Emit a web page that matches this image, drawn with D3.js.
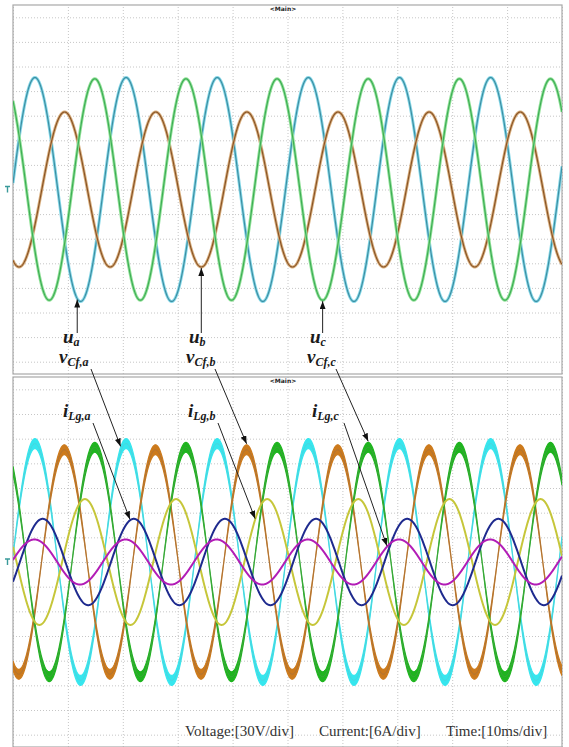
<!DOCTYPE html>
<html lang="en">
<head>
<meta charset="utf-8">
<title></title>
<script src="https://d3js.org/d3.v7.min.js"></script>
<style>
  body { margin: 0; background: #fff; }
  .grid line { stroke: #c6c6c6; stroke-width: 1; stroke-dasharray: 1 2; }
  .grid .domain { display: none; }
  .frame { fill: none; stroke: #a8a8a8; stroke-width: 1.2; }
  .lbl { font-family: "Liberation Serif", "Times New Roman", serif; font-weight: bold; font-style: italic; fill: #1a1a1a; }
  .foot { font-family: "Liberation Serif", "Times New Roman", serif; font-size: 15px; fill: #333; }
  .main { font-family: "DejaVu Sans", sans-serif; font-size: 6px; font-weight: bold; fill: #222; }
  .lead { stroke: #222; stroke-width: 1; }
</style>
</head>
<body>
<svg width="569" height="747"></svg>
<script>
// time base: 10 ms/div, 10 divisions
var timeSpanMs = [0, 100];
var periodMs = 16.6;

// top panel: u / v_Cf voltages [V], 30 V/div
var voltsPerDiv = 30;
var topPhases = ["a", "b", "c"];
var topPeakMs = [4.0, 9.4, 14.9];
var topAmpV = [91, 63, 90];

// bottom panel: thick voltage traces (with switching ripple)
var botVPeakMs = [4.0, 9.35, 14.9];
var botVAmpV = [100, 95, 97];
var botVRippleV = [8, 8, 8];

// bottom panel: grid currents [A], 6 A/div
var ampsPerDiv = 6;
var currPhases = ["a", "b", "c"];
var currPeakMs = [5.4, 13.1, 3.9];
var currAmpA = [7.0, 10.2, 3.65];

// where the annotation arrows touch the traces [ms]
var uArrowMs = [11.7, 34.3, 56.4];
var vArrowMs = [19.6, 42.55, 64.7];
var iArrowMs = [21.3, 44.1, 68.1];

var footTexts = ["Voltage:[30V/div]", "Current:[6A/div]", "Time:[10ms/div]"];

var svg = d3.select("svg");
var left = 13, right = 562;
var topBox = {y0: 5, y1: 374};
var botBox = {y0: 377, y1: 747};

var x = d3.scaleLinear().domain(timeSpanMs).range([left, right]);
var yTop = d3.scaleLinear().domain([-5 * voltsPerDiv, 5 * voltsPerDiv]).range([topBox.y1, topBox.y0]);
var yBotV = d3.scaleLinear().domain([-5 * voltsPerDiv, 5 * voltsPerDiv]).range([botBox.y1, botBox.y0]);
var yBotI = d3.scaleLinear().domain([-5 * ampsPerDiv, 5 * ampsPerDiv]).range([botBox.y1, botBox.y0]);

var samples = d3.range(timeSpanMs[0], timeSpanMs[1] + 0.001, 0.05);
function wave(peak, amp) {
  return function(t) { return amp * Math.cos(2 * Math.PI * (t - peak) / periodMs); };
}

var defs = svg.append("defs");
defs.append("marker").attr("id", "head")
    .attr("markerUnits", "userSpaceOnUse")
    .attr("markerWidth", 8).attr("markerHeight", 6)
    .attr("refX", 8).attr("refY", 3).attr("orient", "auto")
  .append("path").attr("d", "M0,0L8,3L0,6Z").attr("fill", "#111");

function panel(box, yScale, id) {
  var h = box.y1 - box.y0;
  defs.append("clipPath").attr("id", id)
    .append("rect").attr("x", left).attr("y", box.y0).attr("width", right - left).attr("height", h);
  var g = svg.append("g");
  g.append("g").attr("class", "grid")
      .attr("transform", "translate(0," + box.y1 + ")")
      .call(d3.axisBottom(x).ticks(10).tickSize(-h).tickFormat(""));
  g.append("g").attr("class", "grid")
      .attr("transform", "translate(" + left + ",0)")
      .call(d3.axisLeft(yScale).ticks(10).tickSize(-(right - left)).tickFormat(""));
  g.append("rect").attr("class", "frame")
      .attr("x", left).attr("y", box.y0).attr("width", right - left).attr("height", h);
  g.append("text").attr("class", "main").attr("x", 283).attr("y", box.y0 + 6)
      .attr("text-anchor", "middle").text("<Main>");
  // ground marker on the left
  var yz = yScale(0);
  g.append("path").attr("d", "M5," + (yz - 3) + "h5M7.5," + (yz - 3) + "v6")
      .attr("stroke", "#3a9a9a").attr("stroke-width", 1.4).attr("fill", "none");
  return g.append("g").attr("clip-path", "url(#" + id + ")");
}

// ---- top panel ----
var topColors = [["#86d8e8", "#3d8fa3"], ["#d9b080", "#8a5526"], ["#93e29a", "#3eae55"]];
var gTop = panel(topBox, yTop, "clipTop");
topPhases.forEach(function(p, i) {
  var f = wave(topPeakMs[i], topAmpV[i]);
  var line = d3.line().x(function(t) { return x(t); }).y(function(t) { return yTop(f(t)); });
  gTop.append("path").datum(samples).attr("d", line)
      .attr("fill", "none").attr("stroke", topColors[i][0]).attr("stroke-width", 3);
  gTop.append("path").datum(samples).attr("d", line)
      .attr("fill", "none").attr("stroke", topColors[i][1]).attr("stroke-width", 1.2);
});

// ---- bottom panel ----
var botVColors = [["#36e6ee", "#5cc8d0"], ["#cc7a1c", "#9a7048"], ["#1fb41f", "#4f9a4f"]];
var currColors = ["#1e2a8e", "#c6c63a", "#b21cb6"];
var currOrder = [1, 0, 2];
var gBot = panel(botBox, yBotV, "clipBot");
botVPeakMs.forEach(function(pk, i) {
  var outer = wave(pk, botVAmpV[i]);
  var inner = wave(pk, botVAmpV[i] - botVRippleV[i]);
  var band = d3.area().x(function(t) { return x(t); })
      .y0(function(t) { return yBotV(outer(t)); })
      .y1(function(t) { return yBotV(inner(t)); });
  gBot.append("path").datum(samples).attr("d", band)
      .attr("fill", botVColors[i][0]).attr("stroke", botVColors[i][0]).attr("stroke-width", 1.2);
  var mid = wave(pk, botVAmpV[i] - botVRippleV[i] / 2);
  gBot.append("path").datum(samples)
      .attr("d", d3.line().x(function(t) { return x(t); }).y(function(t) { return yBotV(mid(t)); }))
      .attr("fill", "none").attr("stroke", botVColors[i][1]).attr("stroke-width", 0.8).attr("opacity", 0.8);
});
currOrder.forEach(function(i) {
  var f = wave(currPeakMs[i], currAmpA[i]);
  gBot.append("path").datum(samples)
      .attr("d", d3.line().x(function(t) { return x(t); }).y(function(t) { return yBotI(f(t)); }))
      .attr("fill", "none").attr("stroke", currColors[i]).attr("stroke-width", 2);
});

// ---- annotations ----
var ann = svg.append("g");
function label(xp, yp, main, sub, size, subSize) {
  var t = ann.append("text").attr("class", "lbl").attr("x", xp).attr("y", yp);
  t.append("tspan").attr("font-size", size).text(main);
  t.append("tspan").attr("font-size", subSize).attr("dy", 3).text(sub);
}
var uLabelX = [63, 189, 310];
var vLabelX = [59, 186, 307];
var iLabelX = [63, 188, 312];
var vLeadX = [91, 215, 336];
var iLeadX = [93, 218, 344];

topPhases.forEach(function(p, i) {
  label(uLabelX[i], 343, "u", p, 19, 12);
  label(vLabelX[i], 363, "v", "Cf," + p, 19, 12);
  label(iLabelX[i], 417, "i", "Lg," + p, 19, 12);

  var tu = uArrowMs[i];
  var yu = yTop(wave(topPeakMs[i], topAmpV[i])(tu));
  ann.append("line").attr("class", "lead")
      .attr("x1", x(tu)).attr("y1", 333).attr("x2", x(tu)).attr("y2", yu + 1)
      .attr("marker-end", "url(#head)");

  var tv = vArrowMs[i];
  var yv = yBotV(wave(botVPeakMs[i], botVAmpV[i])(tv));
  ann.append("line").attr("class", "lead")
      .attr("x1", vLeadX[i]).attr("y1", 369).attr("x2", x(tv)).attr("y2", yv - 1)
      .attr("marker-end", "url(#head)");

  var ti = iArrowMs[i];
  var yi = yBotI(wave(currPeakMs[i], currAmpA[i])(ti));
  ann.append("line").attr("class", "lead")
      .attr("x1", iLeadX[i]).attr("y1", 423).attr("x2", x(ti)).attr("y2", yi - 1)
      .attr("marker-end", "url(#head)");
});

var footX = [185, 319, 446];
footTexts.forEach(function(s, i) {
  svg.append("text").attr("class", "foot").attr("x", footX[i]).attr("y", 736).text(s);
});
</script>
</body>
</html>
